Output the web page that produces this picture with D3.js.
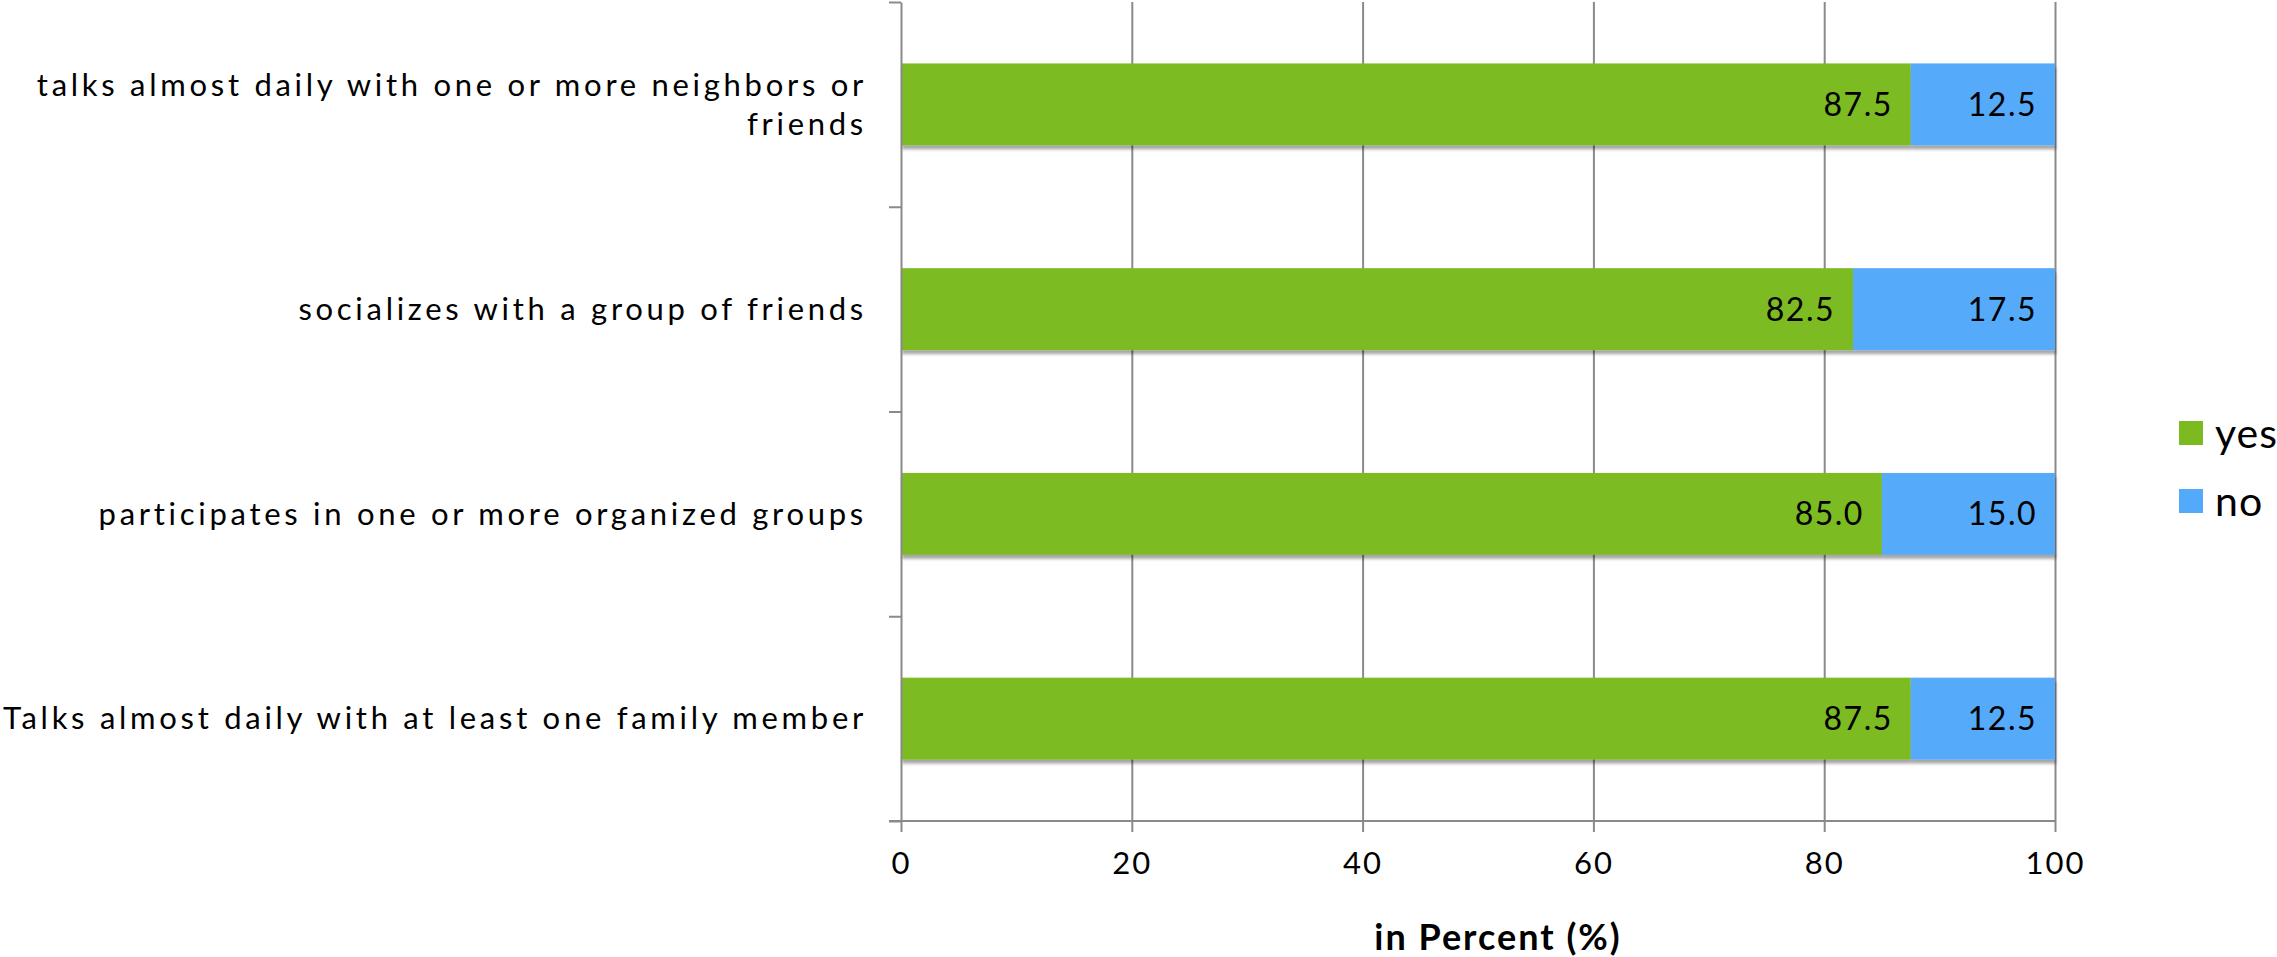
<!DOCTYPE html>
<html>
<head>
<meta charset="utf-8">
<script src="https://cdn.jsdelivr.net/npm/d3@7"></script>
<style>
  html, body { margin: 0; padding: 0; background: #fff; }
  svg { display: block; font-family: "Lato", "Open Sans", sans-serif; }
</style>
</head>
<body>
<svg id="chart" width="2277" height="957"></svg>
<script>
// Survey answers, share of respondents in percent
const categories = [
  "talks almost daily with one or more neighbors or friends",
  "socializes with a group of friends",
  "participates in one or more organized groups",
  "Talks almost daily with at least one family member"
];
const yesValues = [87.5, 82.5, 85.0, 87.5];
const noValues = [12.5, 17.5, 15.0, 12.5];
const seriesNames = ["yes", "no"];
const xTicks = [0, 20, 40, 60, 80, 100];
const axisTitle = "in Percent (%)";

const colors = { yes: "#7cbb20", no: "#54aafa" };
const gridColor = "#8a8a8a";

const plot = { left: 901, right: 2055, top: 2, bottom: 821 };

const svg = d3.select("#chart");

const x = d3.scaleLinear().domain([0, 100]).range([plot.left, plot.right]);
const y = d3.scaleBand().domain(categories)
  .range([plot.top, plot.bottom]).paddingInner(0.6).paddingOuter(0.3);
// category boundaries for the left-axis ticks
const yEdges = d3.scaleLinear().domain([0, categories.length]).range([plot.top, plot.bottom]);

// shadow under the bars
const defs = svg.append("defs");
const f = defs.append("filter").attr("id", "barShadow")
  .attr("x", "-2%").attr("y", "-20%").attr("width", "104%").attr("height", "150%");
f.append("feDropShadow").attr("dx", 1).attr("dy", 4).attr("stdDeviation", 1.6)
  .attr("flood-color", "#000").attr("flood-opacity", 0.35);

// vertical gridlines
const grid = svg.append("g").attr("transform", `translate(0,${plot.bottom})`)
  .call(d3.axisBottom(x).tickValues(xTicks.filter(v => v > 0))
    .tickSize(-(plot.bottom - plot.top)).tickFormat(""));
grid.select(".domain").remove();
grid.selectAll(".tick line").attr("stroke", gridColor).attr("stroke-width", 2);

// bars
const rows = categories.map((c, i) => ({ cat: c, yes: yesValues[i], no: noValues[i] }));
const stack = d3.stack().keys(seriesNames)(rows);

const layers = svg.append("g").attr("filter", "url(#barShadow)");
stack.forEach(layer => {
  layers.append("g").attr("fill", colors[layer.key])
    .selectAll("rect").data(layer).join("rect")
    .attr("x", d => x(d[0]))
    .attr("y", d => y(d.data.cat))
    .attr("width", d => x(d[1]) - x(d[0]))
    .attr("height", y.bandwidth());
});

// value labels, right-aligned inside each segment
const fmt = d3.format(".1f");
stack.forEach(layer => {
  svg.append("g").selectAll("text").data(layer).join("text")
    .attr("x", d => x(d[1]) - 18)
    .attr("y", d => y(d.data.cat) + y.bandwidth() / 2)
    .attr("dy", "0.36em")
    .attr("text-anchor", "end")
    .attr("font-size", 32)
    .attr("letter-spacing", 1.5)
    .attr("fill", "#000")
    .text(d => fmt(d[1] - d[0]));
});

// left axis with ticks at category boundaries
const yAxis = svg.append("g").attr("transform", `translate(${plot.left},0)`)
  .call(d3.axisLeft(yEdges).tickValues(d3.range(categories.length + 1))
    .tickSize(12).tickSizeOuter(0).tickFormat(""));
yAxis.select(".domain").attr("stroke", gridColor).attr("stroke-width", 2);
yAxis.selectAll(".tick line").attr("stroke", gridColor).attr("stroke-width", 2);

// bottom axis
const xAxis = svg.append("g").attr("transform", `translate(0,${plot.bottom})`)
  .call(d3.axisBottom(x).tickValues(xTicks).tickSize(11).tickPadding(20).tickSizeOuter(0));
xAxis.select(".domain").remove();
xAxis.append("line").attr("x1", plot.left - 12).attr("x2", plot.right)
  .attr("stroke", gridColor).attr("stroke-width", 2);
xAxis.selectAll(".tick line").attr("stroke", gridColor).attr("stroke-width", 2);
xAxis.selectAll(".tick text").attr("font-size", 31).attr("fill", "#000")
  .attr("letter-spacing", 2)
  .attr("font-family", "Lato, 'Open Sans', sans-serif");

// axis title
svg.append("text")
  .attr("x", (plot.left + plot.right) / 2 + 20)
  .attr("y", 950)
  .attr("text-anchor", "middle")
  .attr("font-size", 36).attr("font-weight", "bold")
  .attr("letter-spacing", 2)
  .text(axisTitle);

// category labels: tracking set so the longest line spans the label column
const labelRight = plot.left - 34;
const labelColumn = 864;
const lineGap = 39;
const labelSize = 31;
const labels = svg.append("g").attr("font-size", labelSize).attr("text-anchor", "end");

const longest = categories[3];
const probe = labels.append("text").text(longest);
const natural = probe.node().getComputedTextLength();
probe.remove();
const tracking = Math.max(0, (labelColumn - natural) / longest.length);
labels.attr("letter-spacing", tracking);

const wrapWidth = labelColumn + 8;
categories.forEach(cat => {
  const t = labels.append("text").attr("x", labelRight);
  const words = cat.split(" ");
  const lines = [];
  let cur = [];
  words.forEach(w => {
    cur.push(w);
    t.text(cur.join(" "));
    if (t.node().getComputedTextLength() > wrapWidth && cur.length > 1) {
      cur.pop();
      lines.push(cur.join(" "));
      cur = [w];
    }
  });
  lines.push(cur.join(" "));
  t.text(null);
  const cy = y(cat) + y.bandwidth() / 2;
  lines.forEach((ln, i) => {
    t.append("tspan").attr("x", labelRight)
      .attr("y", cy + (i - (lines.length - 1) / 2) * lineGap)
      .attr("dy", "0.35em").text(ln);
  });
});

// legend
const legend = svg.append("g").attr("transform", "translate(2179,421)");
seriesNames.forEach((s, i) => {
  const g = legend.append("g").attr("transform", `translate(0,${i * 68})`);
  g.append("rect").attr("width", 24).attr("height", 24).attr("fill", colors[s]);
  g.append("text").attr("x", 36).attr("y", 12).attr("dy", "0.36em")
    .attr("font-size", 41).attr("letter-spacing", 1).text(s);
});
</script>
</body>
</html>
